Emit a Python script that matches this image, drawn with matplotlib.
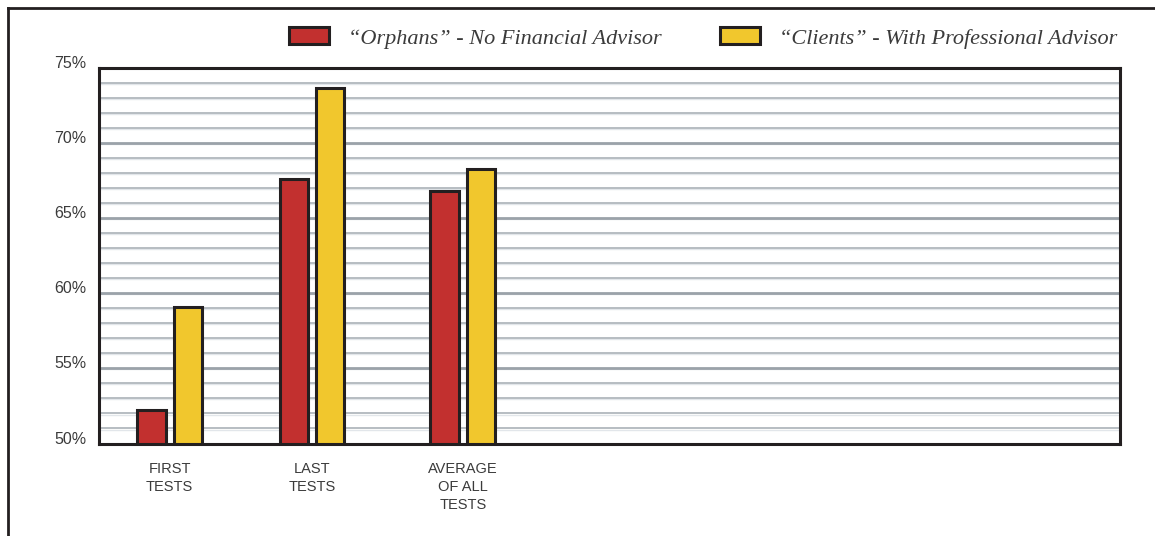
import matplotlib
matplotlib.use("Agg")
import matplotlib.pyplot as plt
from matplotlib.lines import Line2D

# test score share by group
groups = ["FIRST\nTESTS", "LAST\nTESTS", "AVERAGE\nOF ALL\nTESTS"]
orphans = [52.2, 67.6, 66.8]
clients = [59.1, 73.7, 68.3]
series_names = ["\u201cOrphans\u201d - No Financial Advisor",
                "\u201cClients\u201d - With Professional Advisor"]
y_ticks = [50, 55, 60, 65, 70, 75]
y_labels = ["50%", "55%", "60%", "65%", "70%", "75%"]

RED = "#c2302f"
YELLOW = "#f1c72d"
INK = "#231f20"
TEXT = "#3b3b3b"

fig = plt.figure(figsize=(11.55, 5.36), dpi=100)
ax = fig.add_axes([99 / 1155, 1 - 443.5 / 536, (1120 - 99) / 1155, (443.5 - 68) / 536])

group_x = [0, 1, 2.06]
width = 0.2
offset = 0.128
ax.bar([x - offset for x in group_x], [v - 50 for v in orphans], width, bottom=50,
       color=RED, edgecolor=INK, linewidth=2.2, label=series_names[0], zorder=3)
ax.bar([x + offset for x in group_x], [v - 50 for v in clients], width, bottom=50,
       color=YELLOW, edgecolor=INK, linewidth=2.2, label=series_names[1], zorder=3)

ax.set_xlim(-0.497, 6.68)
ax.set_ylim(50, 75)

# ruled background: thin line each percent, heavier every five
for y in range(51, 75):
    major = y % 5 == 0
    ax.axhline(y, color="#9ba2a9" if major else "#aab1b7",
               lw=2.0 if major else 1.2, zorder=1)
    ax.axhline(y - 0.07, color="#e2e6ea", lw=1.0, zorder=0.9)

ax.set_yticks(y_ticks, y_labels, va="baseline", fontsize=11.5,
              color=TEXT, family="Liberation Sans")
ax.set_xticks(group_x, groups, fontsize=10.5, color=TEXT,
              family="Liberation Sans", linespacing=1.38, va="top")
ax.tick_params(length=0)
ax.tick_params(axis="y", pad=9)
ax.tick_params(axis="x", pad=13)

for sp in ax.spines.values():
    sp.set_color(INK)
    sp.set_linewidth(2.2)

fig.legend(loc="center right", bbox_to_anchor=(1137 / 1155, 1 - 38 / 536),
           ncol=2, frameon=False, handlelength=1.8, handleheight=0.77,
           handletextpad=0.86, columnspacing=2.6,
           prop={"family": "Liberation Serif", "style": "italic", "size": 16})
for txt in fig.legends[0].get_texts():
    txt.set_color(TEXT)

# page frame along the top and left edges
fig.add_artist(Line2D([8 / 1155, 1], [1 - 8 / 536, 1 - 8 / 536],
                      transform=fig.transFigure, color=INK, lw=2))
fig.add_artist(Line2D([8 / 1155, 8 / 1155], [0, 1 - 8 / 536],
                      transform=fig.transFigure, color=INK, lw=2))

fig.savefig("out.png", dpi=100)
